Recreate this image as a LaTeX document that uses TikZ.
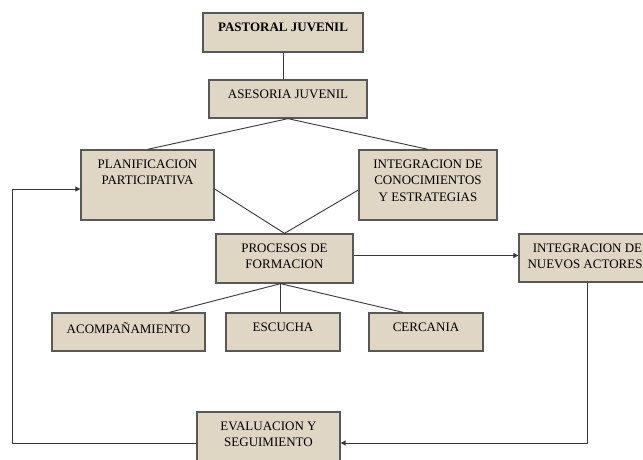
\documentclass[tikz,border=0pt]{standalone}
\usepackage{fontspec}
\setmainfont{Liberation Serif}
\definecolor{boxfill}{RGB}{223,214,196}
\definecolor{boxline}{RGB}{88,88,88}
\definecolor{linkgray}{RGB}{55,55,55}
\usetikzlibrary{arrows.meta,positioning,calc}
\newcommand{\boxtxt}[3]{\parbox[c][#2][t]{#1}{\centering\vspace*{9.5pt}#3}}

\begin{document}
\begin{tikzpicture}[x=1pt, y=-1pt,
  box/.style={draw=boxline, line width=1.3pt, fill=boxfill, inner sep=0pt,
              font=\fontsize{13}{16.5}\selectfont},
  link/.style={draw=linkgray, line width=0.9pt},
  arr/.style={link, -{Triangle[length=5pt, width=5pt]}}
]
\useasboundingbox (0,0) rectangle (643,459);
% boxes
\node[box] (past) at (283,32.5) {\boxtxt{160pt}{39pt}{\textbf{PASTORAL JUVENIL}}};
\node[box] (ases) at (288,99) {\boxtxt{158pt}{38pt}{ASESORIA JUVENIL}};
\node[box] (plan) at (147.5,185) {\boxtxt{133pt}{70pt}{PLANIFICACION\\PARTICIPATIVA}};
\node[box] (integ) at (428,185) {\boxtxt{138pt}{70pt}{INTEGRACION DE\\CONOCIMIENTOS\\Y ESTRATEGIAS}};
\node[box] (proc) at (284.5,258.5) {\boxtxt{137pt}{49pt}{PROCESOS DE\\FORMACION}};
\node[box] (nuev) at (587.5,258) {\boxtxt{137pt}{48pt}{INTEGRACION DE\\NUEVOS ACTORES\hspace*{5pt}}};
\node[box] (acomp) at (128.5,332) {\boxtxt{153pt}{38pt}{ACOMPAÑAMIENTO}};
\node[box] (escu) at (283,332) {\boxtxt{114pt}{38pt}{ESCUCHA}};
\node[box] (cerc) at (426,332) {\boxtxt{114pt}{38pt}{CERCANIA}};
\node[box] (eval) at (268.5,436.5) {\boxtxt{143pt}{49pt}{EVALUACION Y\\SEGUIMIENTO}};
% connectors
\draw[link] (past.south) -- (past.south |- ases.north);
\draw[link] (plan.north) -- (ases.south) -- (integ.north);
\draw[link] ([yshift=-4pt]plan.east) -- (proc.north) -- ([yshift=-5pt]integ.west);
\draw[arr] ([yshift=3pt]proc.east) -- ([yshift=3pt]proc.east -| nuev.west);
\draw[link] ([xshift=41pt]acomp.north) -- ([xshift=-4pt]proc.south) -- ([xshift=-23pt]cerc.north);
\draw[link] ([xshift=-4pt]proc.south) -- ([xshift=-4pt]proc.south |- escu.north);
\draw[arr] (nuev.south) |- ([yshift=-6.5pt]eval.east);
\draw[arr] ([yshift=-6.5pt]eval.west) -| ([xshift=-68pt, yshift=-4pt]plan.west) -- ([yshift=-4pt]plan.west);
\end{tikzpicture}
\end{document}
